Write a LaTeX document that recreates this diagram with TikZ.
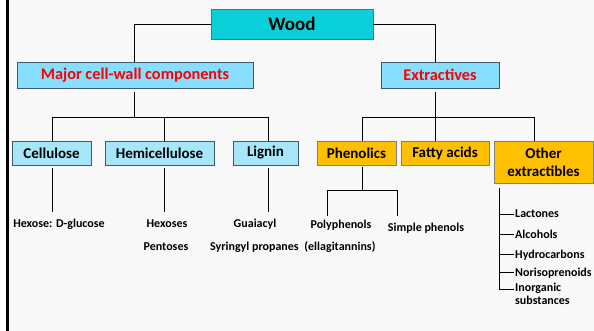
\documentclass[tikz,border=0pt]{standalone}
\usepackage{fontspec}
\setmainfont{Carlito}
\definecolor{bgc}{HTML}{F8F8F8}
\definecolor{woodfill}{HTML}{0BCFD8}
\definecolor{woodline}{HTML}{3A7F86}
\definecolor{lbfill}{HTML}{87DEFF}
\definecolor{lbline}{HTML}{3F5A68}
\definecolor{pbfill}{HTML}{A6E6F8}
\definecolor{orfill}{HTML}{FFC000}
\definecolor{orline}{HTML}{7F7F7F}
\definecolor{redtxt}{HTML}{FF0000}
\tikzset{
  box/.style={draw, line width=0.9pt, rectangle, inner sep=0pt, align=center, font=\bfseries},
  woodbox/.style={box, draw=woodline, fill=woodfill, font=\bfseries\fontsize{19}{22}\selectfont},
  topbox/.style={box, draw=lbline, fill=lbfill, text=redtxt, font=\bfseries\fontsize{16.3}{19}\selectfont},
  secbox/.style={box, draw=lbline, fill=pbfill, font=\bfseries\fontsize{15}{18}\selectfont},
  orbox/.style={box, draw=orline, fill=orfill, font=\bfseries\fontsize{15}{18}\selectfont},
  conn/.style={draw=black, line width=0.8pt},
  leaf/.style={inner sep=0pt, font=\bfseries\fontsize{12}{13}\selectfont},
}
\begin{document}
\begin{tikzpicture}[x=1pt,y=-1pt]
\useasboundingbox (0,0) rectangle (594,331);
\fill[bgc] (0,0) rectangle (594,331);
\fill[white] (0,0) rectangle (6,331);
\draw[black, line width=2.6pt] (7.5,0) -- (7.5,331);

% boxes
\node[woodbox, minimum width=162pt, minimum height=30pt] (wood) at (292,24) {Wood};
\node[topbox, minimum width=236pt, minimum height=26pt] (major) at (135,75) {Major cell-wall components};
\node[topbox, minimum width=118pt, minimum height=26pt] (extr) at (440,75) {Extractives};
\node[secbox, minimum width=79pt, minimum height=24pt] (cell) at (51.5,153) {Cellulose};
\node[secbox, minimum width=109pt, minimum height=24pt] (hemi) at (159.5,153) {Hemicellulose};
\node[secbox, minimum width=65pt, minimum height=24pt] (lig) at (265.5,153) {Lignin};
\node[orbox, minimum width=79pt, minimum height=24pt] (phen) at (356.5,153) {Phenolics};
\node[orbox, minimum width=88pt, minimum height=24pt] (fatty) at (445,153) {Fatty acids};
\node[orbox, minimum width=99pt, minimum height=42pt] (other) at (543.5,162) {Other\\extractibles};

% wood to top boxes
\coordinate (wl) at (134,24);
\coordinate (wr) at (435,24);
\draw[conn] (wood.west) -- (wl) -- (wl |- major.north);
\draw[conn] (wood.east) -- (wr) -- (wr |- extr.north);

% major bus
\coordinate (mb) at (134,117);
\coordinate (mbl) at (52,117);
\coordinate (mbm) at (164,117);
\coordinate (mbr) at (268,117);
\draw[conn] ([yshift=-3.5pt]major.south -| mb) -- (mb);
\draw[conn] (mbl) -- (mbr);
\draw[conn] (mbl) -- (mbl |- cell.north);
\draw[conn] (mbm) -- (mbm |- hemi.north);
\draw[conn] (mbr) -- (mbr |- lig.north);

% extractives bus
\coordinate (eb) at (435,117);
\coordinate (ebl) at (362,117);
\coordinate (ebr) at (534,117);
\draw[conn] ([yshift=-3.5pt]extr.south -| eb) -- (eb);
\draw[conn] (ebl) -- (ebr);
\draw[conn] (ebl) -- (ebl |- phen.north);
\draw[conn] (eb) -- (eb |- fatty.north);
\draw[conn] (ebr) -- (ebr |- other.north);

% leaves below main components
\coordinate (c1) at (52,212);
\coordinate (h1) at (164,212);
\coordinate (l1) at (268,212);
\draw[conn] ([yshift=-3pt]cell.south -| c1) -- (c1);
\draw[conn] ([yshift=-3pt]hemi.south -| h1) -- (h1);
\draw[conn] ([yshift=-3pt]lig.south -| l1) -- (l1);
\node[leaf, anchor=base] (hexg) at (59,227) {Hexose: D-glucose};
\node[leaf, anchor=base] (hexs) at (167,227) {Hexoses};
\node[leaf, anchor=base] (pent) at (166,250) {Pentoses};
\node[leaf, anchor=base] (guai) at (255,227) {Guaiacyl};
\node[leaf, anchor=base west] (syr) at (210,250) {Syringyl propanes\hspace{3pt} (ellagitannins)};

% phenolics
\coordinate (pb) at (362,190);
\coordinate (pbl) at (327,190);
\coordinate (pbr) at (397,190);
\coordinate (pl) at (327,216);
\coordinate (pr) at (397,216);
\draw[conn] ([yshift=-2pt]phen.south -| pb) -- (pb);
\draw[conn] (pl) -- (pbl) -- (pbr) -- (pr);
\node[leaf, anchor=base] (poly) at (341,228) {Polyphenols};
\node[leaf, anchor=base] (simp) at (426,231) {Simple phenols};

% other extractibles list
\coordinate (ot) at (499,188);
\coordinate (t1) at (499,214);
\coordinate (t2) at (499,234);
\coordinate (t3) at (499,254);
\coordinate (t4) at (499,272);
\coordinate (t5) at (499,289);
\draw[conn] (ot) -- (t5) -- ++(15,0);
\draw[conn] (t1) -- ++(15,0);
\draw[conn] (t2) -- ++(15,0);
\draw[conn] (t3) -- ++(15,0);
\draw[conn] (t4) -- ++(15,0);
\node[leaf, anchor=base west] (lac) at (515,218) {Lactones};
\node[leaf, anchor=base west] (alc) at (515,238) {Alcohols};
\node[leaf, anchor=base west] (hyd) at (515,258) {Hydrocarbons};
\node[leaf, anchor=base west] (nor) at (515,276) {Norisoprenoids};
\node[leaf, anchor=base west] (ino) at (515,291) {Inorganic};
\node[leaf, anchor=base west] (sub) at (515,304) {substances};
\end{tikzpicture}
\end{document}
